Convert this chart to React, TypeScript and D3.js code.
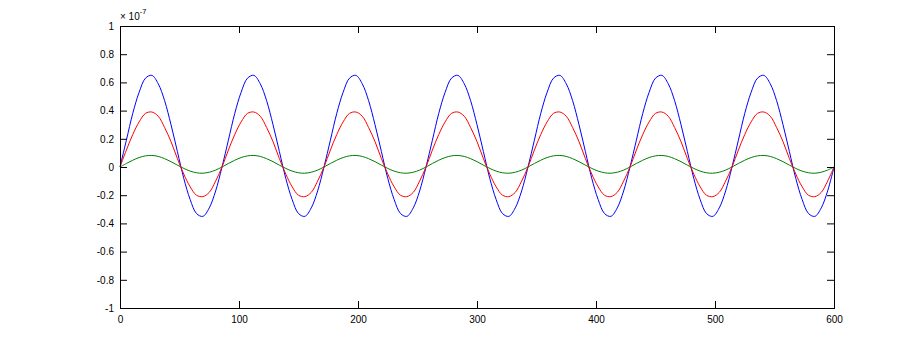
import { useEffect, useRef } from 'react';
import * as d3 from 'd3';

// values are in units of 1e-7, sampled evenly over t = 0..600 (16 samples per cycle)
const blue = [
  0, 0.19, 0.38, 0.53, 0.63, 0.65, 0.59, 0.47, 0.3, 0.11, -0.08, -0.23, -0.33, -0.35, -0.29, -0.17,
  0, 0.19, 0.38, 0.53, 0.63, 0.65, 0.59, 0.47, 0.3, 0.11, -0.08, -0.23, -0.33, -0.35, -0.29, -0.17,
  0, 0.19, 0.38, 0.53, 0.63, 0.65, 0.59, 0.47, 0.3, 0.11, -0.08, -0.23, -0.33, -0.35, -0.29, -0.17,
  0, 0.19, 0.38, 0.53, 0.63, 0.65, 0.59, 0.47, 0.3, 0.11, -0.08, -0.23, -0.33, -0.35, -0.29, -0.17,
  0, 0.19, 0.38, 0.53, 0.63, 0.65, 0.59, 0.47, 0.3, 0.11, -0.08, -0.23, -0.33, -0.35, -0.29, -0.17,
  0, 0.19, 0.38, 0.53, 0.63, 0.65, 0.59, 0.47, 0.3, 0.11, -0.08, -0.23, -0.33, -0.35, -0.29, -0.17,
  0, 0.19, 0.38, 0.53, 0.63, 0.65, 0.59, 0.47, 0.3, 0.11, -0.08, -0.23, -0.33, -0.35, -0.29, -0.17,
  0,
];
const red = [
  0, 0.12, 0.23, 0.32, 0.38, 0.39, 0.36, 0.28, 0.18, 0.06, -0.05, -0.14, -0.2, -0.21, -0.18, -0.1,
  0, 0.12, 0.23, 0.32, 0.38, 0.39, 0.36, 0.28, 0.18, 0.06, -0.05, -0.14, -0.2, -0.21, -0.18, -0.1,
  0, 0.12, 0.23, 0.32, 0.38, 0.39, 0.36, 0.28, 0.18, 0.06, -0.05, -0.14, -0.2, -0.21, -0.18, -0.1,
  0, 0.12, 0.23, 0.32, 0.38, 0.39, 0.36, 0.28, 0.18, 0.06, -0.05, -0.14, -0.2, -0.21, -0.18, -0.1,
  0, 0.12, 0.23, 0.32, 0.38, 0.39, 0.36, 0.28, 0.18, 0.06, -0.05, -0.14, -0.2, -0.21, -0.18, -0.1,
  0, 0.12, 0.23, 0.32, 0.38, 0.39, 0.36, 0.28, 0.18, 0.06, -0.05, -0.14, -0.2, -0.21, -0.18, -0.1,
  0, 0.12, 0.23, 0.32, 0.38, 0.39, 0.36, 0.28, 0.18, 0.06, -0.05, -0.14, -0.2, -0.21, -0.18, -0.1,
  0,
];
const green = [
  0, 0.025, 0.048, 0.067, 0.079, 0.082, 0.075, 0.059, 0.038, 0.013, -0.01, -0.029, -0.041, -0.044, -0.037, -0.022,
  0, 0.025, 0.048, 0.067, 0.079, 0.082, 0.075, 0.059, 0.038, 0.013, -0.01, -0.029, -0.041, -0.044, -0.037, -0.022,
  0, 0.025, 0.048, 0.067, 0.079, 0.082, 0.075, 0.059, 0.038, 0.013, -0.01, -0.029, -0.041, -0.044, -0.037, -0.022,
  0, 0.025, 0.048, 0.067, 0.079, 0.082, 0.075, 0.059, 0.038, 0.013, -0.01, -0.029, -0.041, -0.044, -0.037, -0.022,
  0, 0.025, 0.048, 0.067, 0.079, 0.082, 0.075, 0.059, 0.038, 0.013, -0.01, -0.029, -0.041, -0.044, -0.037, -0.022,
  0, 0.025, 0.048, 0.067, 0.079, 0.082, 0.075, 0.059, 0.038, 0.013, -0.01, -0.029, -0.041, -0.044, -0.037, -0.022,
  0, 0.025, 0.048, 0.067, 0.079, 0.082, 0.075, 0.059, 0.038, 0.013, -0.01, -0.029, -0.041, -0.044, -0.037, -0.022,
  0,
];

const xTicks = [0, 100, 200, 300, 400, 500, 600];
const yTicks = [-1, -0.8, -0.6, -0.4, -0.2, 0, 0.2, 0.4, 0.6, 0.8, 1];

export default function App() {
  const chartRef = useRef<SVGSVGElement>(null);

  useEffect(() => {
    const svg = d3.select(chartRef.current);
    svg.selectAll('*').remove();

    const left = 120, right = 834, top = 26, bottom = 308;
    const font = "'Liberation Sans', Arial, Helvetica, sans-serif";

    const x = d3.scaleLinear().domain([0, 600]).range([left, right]);
    const y = d3.scaleLinear().domain([-1, 1]).range([bottom, top]);
    const t = d3.range(blue.length).map(i => (i * 600) / (blue.length - 1));

    const line = d3.line<number>()
      .x((d, i) => x(t[i]))
      .y(d => y(d))
      .curve(d3.curveCatmullRom);

    // plot order as in matlab colour order: blue, green, red
    const series = [
      { values: blue, color: '#0000ff' },
      { values: green, color: '#008000' },
      { values: red, color: '#ff0000' },
    ];

    svg.append('g')
      .selectAll('path')
      .data(series)
      .enter().append('path')
      .attr('d', d => line(d.values))
      .attr('fill', 'none')
      .attr('stroke', d => d.color)
      .attr('stroke-width', 1);

    const style = (g: any) => {
      g.select('.domain').remove();
      g.attr('font-family', font).attr('font-size', 10);
      g.selectAll('line').attr('stroke', '#000');
      g.selectAll('text').attr('fill', '#000');
    };

    svg.append('g')
      .attr('transform', `translate(0,${bottom})`)
      .call(d3.axisBottom(x).tickValues(xTicks).tickSizeInner(-7).tickSizeOuter(0).tickPadding(8)
        .tickFormat(d => String(d)))
      .call(style);

    svg.append('g')
      .attr('transform', `translate(0,${top})`)
      .call(d3.axisTop(x).tickValues(xTicks).tickSizeInner(-7).tickSizeOuter(0).tickFormat(() => ''))
      .call(style);

    svg.append('g')
      .attr('transform', `translate(${left},0)`)
      .call(d3.axisLeft(y).tickValues(yTicks).tickSizeInner(-7).tickSizeOuter(0).tickPadding(6)
        .tickFormat(d => String(+(+d).toFixed(1))))
      .call(style);

    svg.append('g')
      .attr('transform', `translate(${right},0)`)
      .call(d3.axisRight(y).tickValues(yTicks).tickSizeInner(-7).tickSizeOuter(0).tickFormat(() => ''))
      .call(style);

    svg.append('rect')
      .attr('x', left + 0.5)
      .attr('y', top + 0.5)
      .attr('width', right - left)
      .attr('height', bottom - top)
      .attr('fill', 'none')
      .attr('stroke', '#000');

    const exp = svg.append('text')
      .attr('x', left)
      .attr('y', 20)
      .attr('font-family', font)
      .attr('font-size', 10)
      .text('\u00d7 10');
    exp.append('tspan')
      .attr('dy', -6)
      .attr('font-size', 7.5)
      .text('-7');
  }, []);

  return (
    <svg
      ref={chartRef}
      width={922}
      height={347}
      style={{ position: 'absolute', left: 0, top: 0, background: '#fff' }}
    />
  );
}
